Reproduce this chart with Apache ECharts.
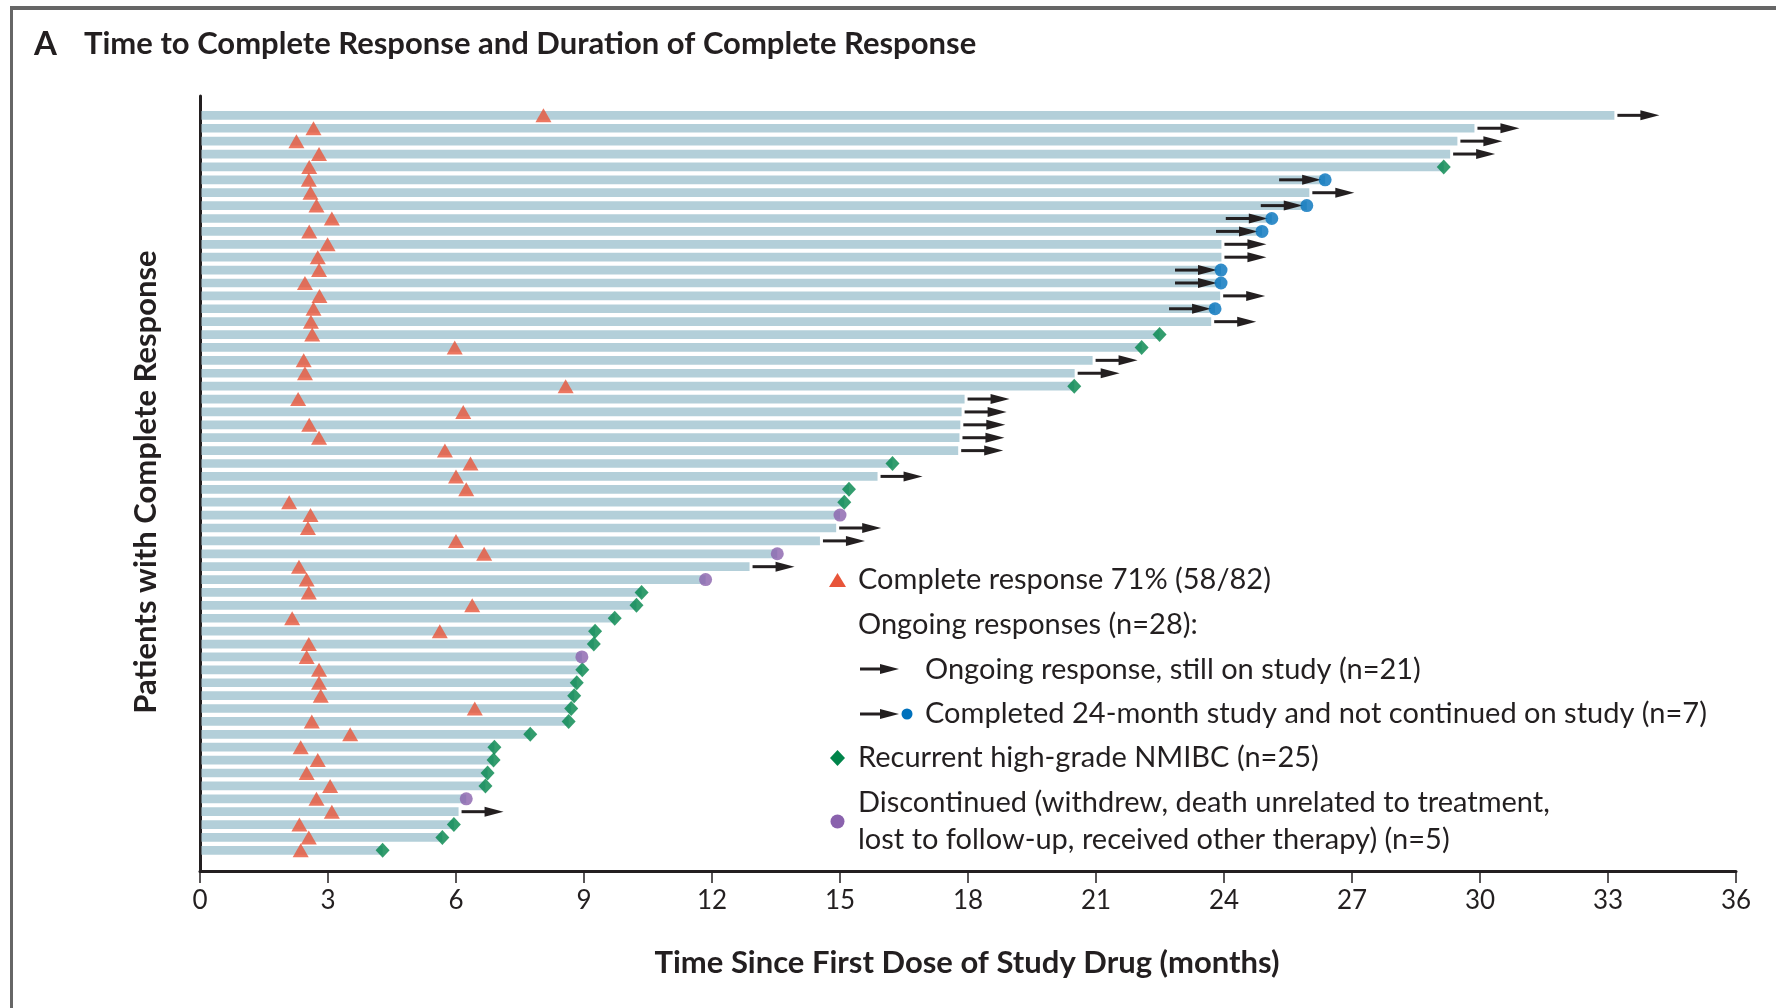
<!DOCTYPE html>
<html><head><meta charset="utf-8">
<script src="https://cdn.jsdelivr.net/npm/echarts/dist/echarts.min.js"></script>
<style>html,body{margin:0;padding:0;background:#fff}#c{width:1776px;height:1008px}</style>
</head><body><div id="c"></div>
<script>
// ---- data (one entry per patient, top row first) ----
const patients = Array.from({length: 58}, (_, i) => 'P' + (i + 1));
const timeToCR = [8.05,2.66,2.26,2.79,2.56,2.55,2.59,2.73,3.09,2.56,
  2.99,2.76,2.79,2.46,2.80,2.66,2.60,2.63,5.97,2.43,
  2.46,8.57,2.30,6.17,2.56,2.79,5.74,6.34,6.00,6.24,
  2.09,2.59,2.53,6.00,6.66,2.32,2.50,2.55,6.38,2.16,
  5.62,2.55,2.50,2.79,2.79,2.83,6.44,2.62,3.52,2.36,
  2.76,2.50,3.05,2.73,3.09,2.33,2.55,2.36];
const responseEnd = [33.15,29.87,29.47,29.30,29.15,26.37,26.00,25.94,25.12,24.89,
  23.94,23.94,23.93,23.93,23.91,23.79,23.70,22.49,22.07,20.92,
  20.50,20.49,17.92,17.85,17.82,17.80,17.77,16.23,15.88,15.21,
  15.10,15.00,14.91,14.53,13.53,12.88,11.85,10.35,10.23,9.72,
  9.26,9.23,8.95,8.96,8.83,8.77,8.70,8.64,7.74,6.90,
  6.88,6.74,6.69,6.24,6.06,5.95,5.68,4.28];
// O = ongoing, C = completed 24-month study, R = recurrence, D = discontinued
const outcome = ['O','O','O','O','R','C','O','C','C','C',
  'O','O','C','C','O','C','O','R','R','O',
  'O','R','O','O','O','O','O','R','O','R',
  'R','D','O','O','D','O','D','R','R','R',
  'R','R','D','R','R','R','R','R','R','R',
  'R','R','R','D','O','R','R','R'];
const xTickMin = 0, xTickMax = 36, xTickStep = 3;
const legendTexts = {
  cr: 'Complete response 71% (58/82)',
  ongoingHead: 'Ongoing responses (n=28):',
  ongoing: 'Ongoing response, still on study (n=21)',
  completed: 'Completed 24-month study and not continued on study (n=7)',
  recur: 'Recurrent high-grade NMIBC (n=25)',
  disc1: 'Discontinued (withdrew, death unrelated to treatment,',
  disc2: 'lost to follow-up, received other therapy) (n=5)'
};
const titleText = 'Time to Complete Response and Duration of Complete Response';
const xTitle = 'Time Since First Dose of Study Drug (months)';
const yTitle = 'Patients with Complete Response';

// ---- styles ----
const FONT = 'Lato, "Open Sans", sans-serif';
const C_BAR = '#b3cfd9', C_TRI = '#e8553a', C_DIA = '#00844a', C_BLUE = '#0071bc',
      C_PURP = '#8a62ad', C_INK = '#231f20';
const LEG_FONT = '29px ' + FONT;

const barData = responseEnd.map((v, i) => [v, i + 1]);
const triData = timeToCR.map((v, i) => [v, i + 1]);
const pick = code => responseEnd.map((v, i) => outcome[i] === code ? [v, i + 1] : null).filter(Boolean);
const diaData = pick('R'), purpData = pick('D'), blueData = pick('C');
const arrowData = responseEnd.map((v, i) => (outcome[i] === 'O' || outcome[i] === 'C') ? [v, i + 1, outcome[i] === 'O' ? 0 : 1] : null).filter(Boolean);

function arrowEls(x1, x2, y) {
  return [
    {type: 'line', shape: {x1: x1, y1: y, x2: x2 - 14, y2: y}, style: {stroke: C_INK, lineWidth: 3}},
    {type: 'polygon', shape: {points: [[x2 - 19, y - 5], [x2, y], [x2 - 19, y + 5]]}, style: {fill: C_INK}}
  ];
}

const chart = echarts.init(document.getElementById('c'), null, {renderer: 'canvas'});
chart.setOption({
  animation: false,
  backgroundColor: '#fff',
  grid: {left: 200, right: 40, top: 96, bottom: 137},
  xAxis: {
    type: 'value', min: xTickMin, max: xTickMax, interval: xTickStep, position: 'bottom',
    axisLine: {show: true, onZero: false, lineStyle: {color: C_INK, width: 3}},
    axisTick: {show: true, length: 12, lineStyle: {color: C_INK, width: 1.5}},
    axisLabel: {fontFamily: FONT, fontSize: 26, color: C_INK, margin: 17},
    splitLine: {show: false}
  },
  yAxis: {
    type: 'value', min: -0.5, max: 59.6, inverse: true, position: 'left',
    axisLine: {show: true, onZero: false, lineStyle: {color: C_INK, width: 3}},
    axisTick: {show: false}, axisLabel: {show: false}, splitLine: {show: false}
  },
  series: [
    {
      type: 'custom', name: 'bars', data: barData, z: 1,
      renderItem: function (params, api) {
        const p0 = api.coord([0, api.value(1)]);
        const p1 = api.coord([api.value(0), api.value(1)]);
        return {type: 'rect', shape: {x: p0[0] + 1.5, y: p0[1] - 4.35, width: p1[0] - p0[0] - 1.5, height: 8.7}, style: {fill: C_BAR}};
      }
    },
    {
      type: 'custom', name: 'arrows', data: arrowData, z: 3,
      renderItem: function (params, api) {
        const p = api.coord([api.value(0), api.value(1)]);
        const kind = api.value(2);
        let x1, x2;
        if (kind === 0) { x1 = p[0] + 3; x2 = x1 + 42; }
        else { x2 = p[0] - 4; x1 = x2 - 42; }
        return {type: 'group', children: arrowEls(x1, x2, p[1])};
      }
    },
    {type: 'scatter', name: 'cr', data: triData, symbol: 'triangle', symbolSize: [16, 14], itemStyle: {color: C_TRI}, z: 4},
    {type: 'scatter', name: 'recur', data: diaData, symbol: 'diamond', symbolSize: [14, 15], itemStyle: {color: C_DIA}, z: 4},
    {type: 'scatter', name: 'disc', data: purpData, symbol: 'circle', symbolSize: 13, itemStyle: {color: C_PURP}, z: 4},
    {type: 'scatter', name: 'completed', data: blueData, symbol: 'circle', symbolSize: 13, itemStyle: {color: C_BLUE}, z: 4}
  ],
  graphic: [
    {type: 'rect', shape: {x: 10, y: 6, width: 1766, height: 4}, style: {fill: '#666'}},
    {type: 'rect', shape: {x: 10, y: 6, width: 3, height: 1002}, style: {fill: '#666'}},
    {type: 'text', x: 34, y: 44, style: {text: 'A', font: 'bold 33px ' + FONT, fill: C_INK, verticalAlign: 'middle'}},
    {type: 'text', x: 84, y: 44, style: {text: titleText, font: 'bold 31px ' + FONT, fill: C_INK, verticalAlign: 'middle'}},
    {type: 'text', x: 146, y: 482, rotation: Math.PI / 2, style: {text: yTitle, font: 'bold 31px ' + FONT, fill: C_INK, align: 'center', verticalAlign: 'middle'}},
    {type: 'text', x: 967, y: 963, style: {text: xTitle, font: 'bold 31px ' + FONT, fill: C_INK, align: 'center', verticalAlign: 'middle'}},
    // legend
    {type: 'polygon', shape: {points: [[829, 587], [837.5, 573], [846, 587]]}, style: {fill: C_TRI}},
    {type: 'text', x: 858, y: 580, style: {text: legendTexts.cr, font: LEG_FONT, fill: C_INK, verticalAlign: 'middle'}},
    {type: 'text', x: 858, y: 625, style: {text: legendTexts.ongoingHead, font: LEG_FONT, fill: C_INK, verticalAlign: 'middle'}},
    {type: 'group', children: arrowEls(860, 899, 669)},
    {type: 'text', x: 925, y: 670, style: {text: legendTexts.ongoing, font: LEG_FONT, fill: C_INK, verticalAlign: 'middle'}},
    {type: 'group', children: arrowEls(860, 899, 714)},
    {type: 'circle', shape: {cx: 907, cy: 714, r: 5.5}, style: {fill: C_BLUE}},
    {type: 'text', x: 925, y: 714, style: {text: legendTexts.completed, font: LEG_FONT, fill: C_INK, verticalAlign: 'middle'}},
    {type: 'polygon', shape: {points: [[830, 758], [837.5, 750], [845, 758], [837.5, 766]]}, style: {fill: C_DIA}},
    {type: 'text', x: 858, y: 758, style: {text: legendTexts.recur, font: LEG_FONT, fill: C_INK, verticalAlign: 'middle'}},
    {type: 'circle', shape: {cx: 837.5, cy: 821.5, r: 7}, style: {fill: C_PURP}},
    {type: 'text', x: 858, y: 803, style: {text: legendTexts.disc1, font: LEG_FONT, fill: C_INK, verticalAlign: 'middle'}},
    {type: 'text', x: 858, y: 840, style: {text: legendTexts.disc2, font: LEG_FONT, fill: C_INK, verticalAlign: 'middle'}}
  ]
});
</script>
</body></html>
